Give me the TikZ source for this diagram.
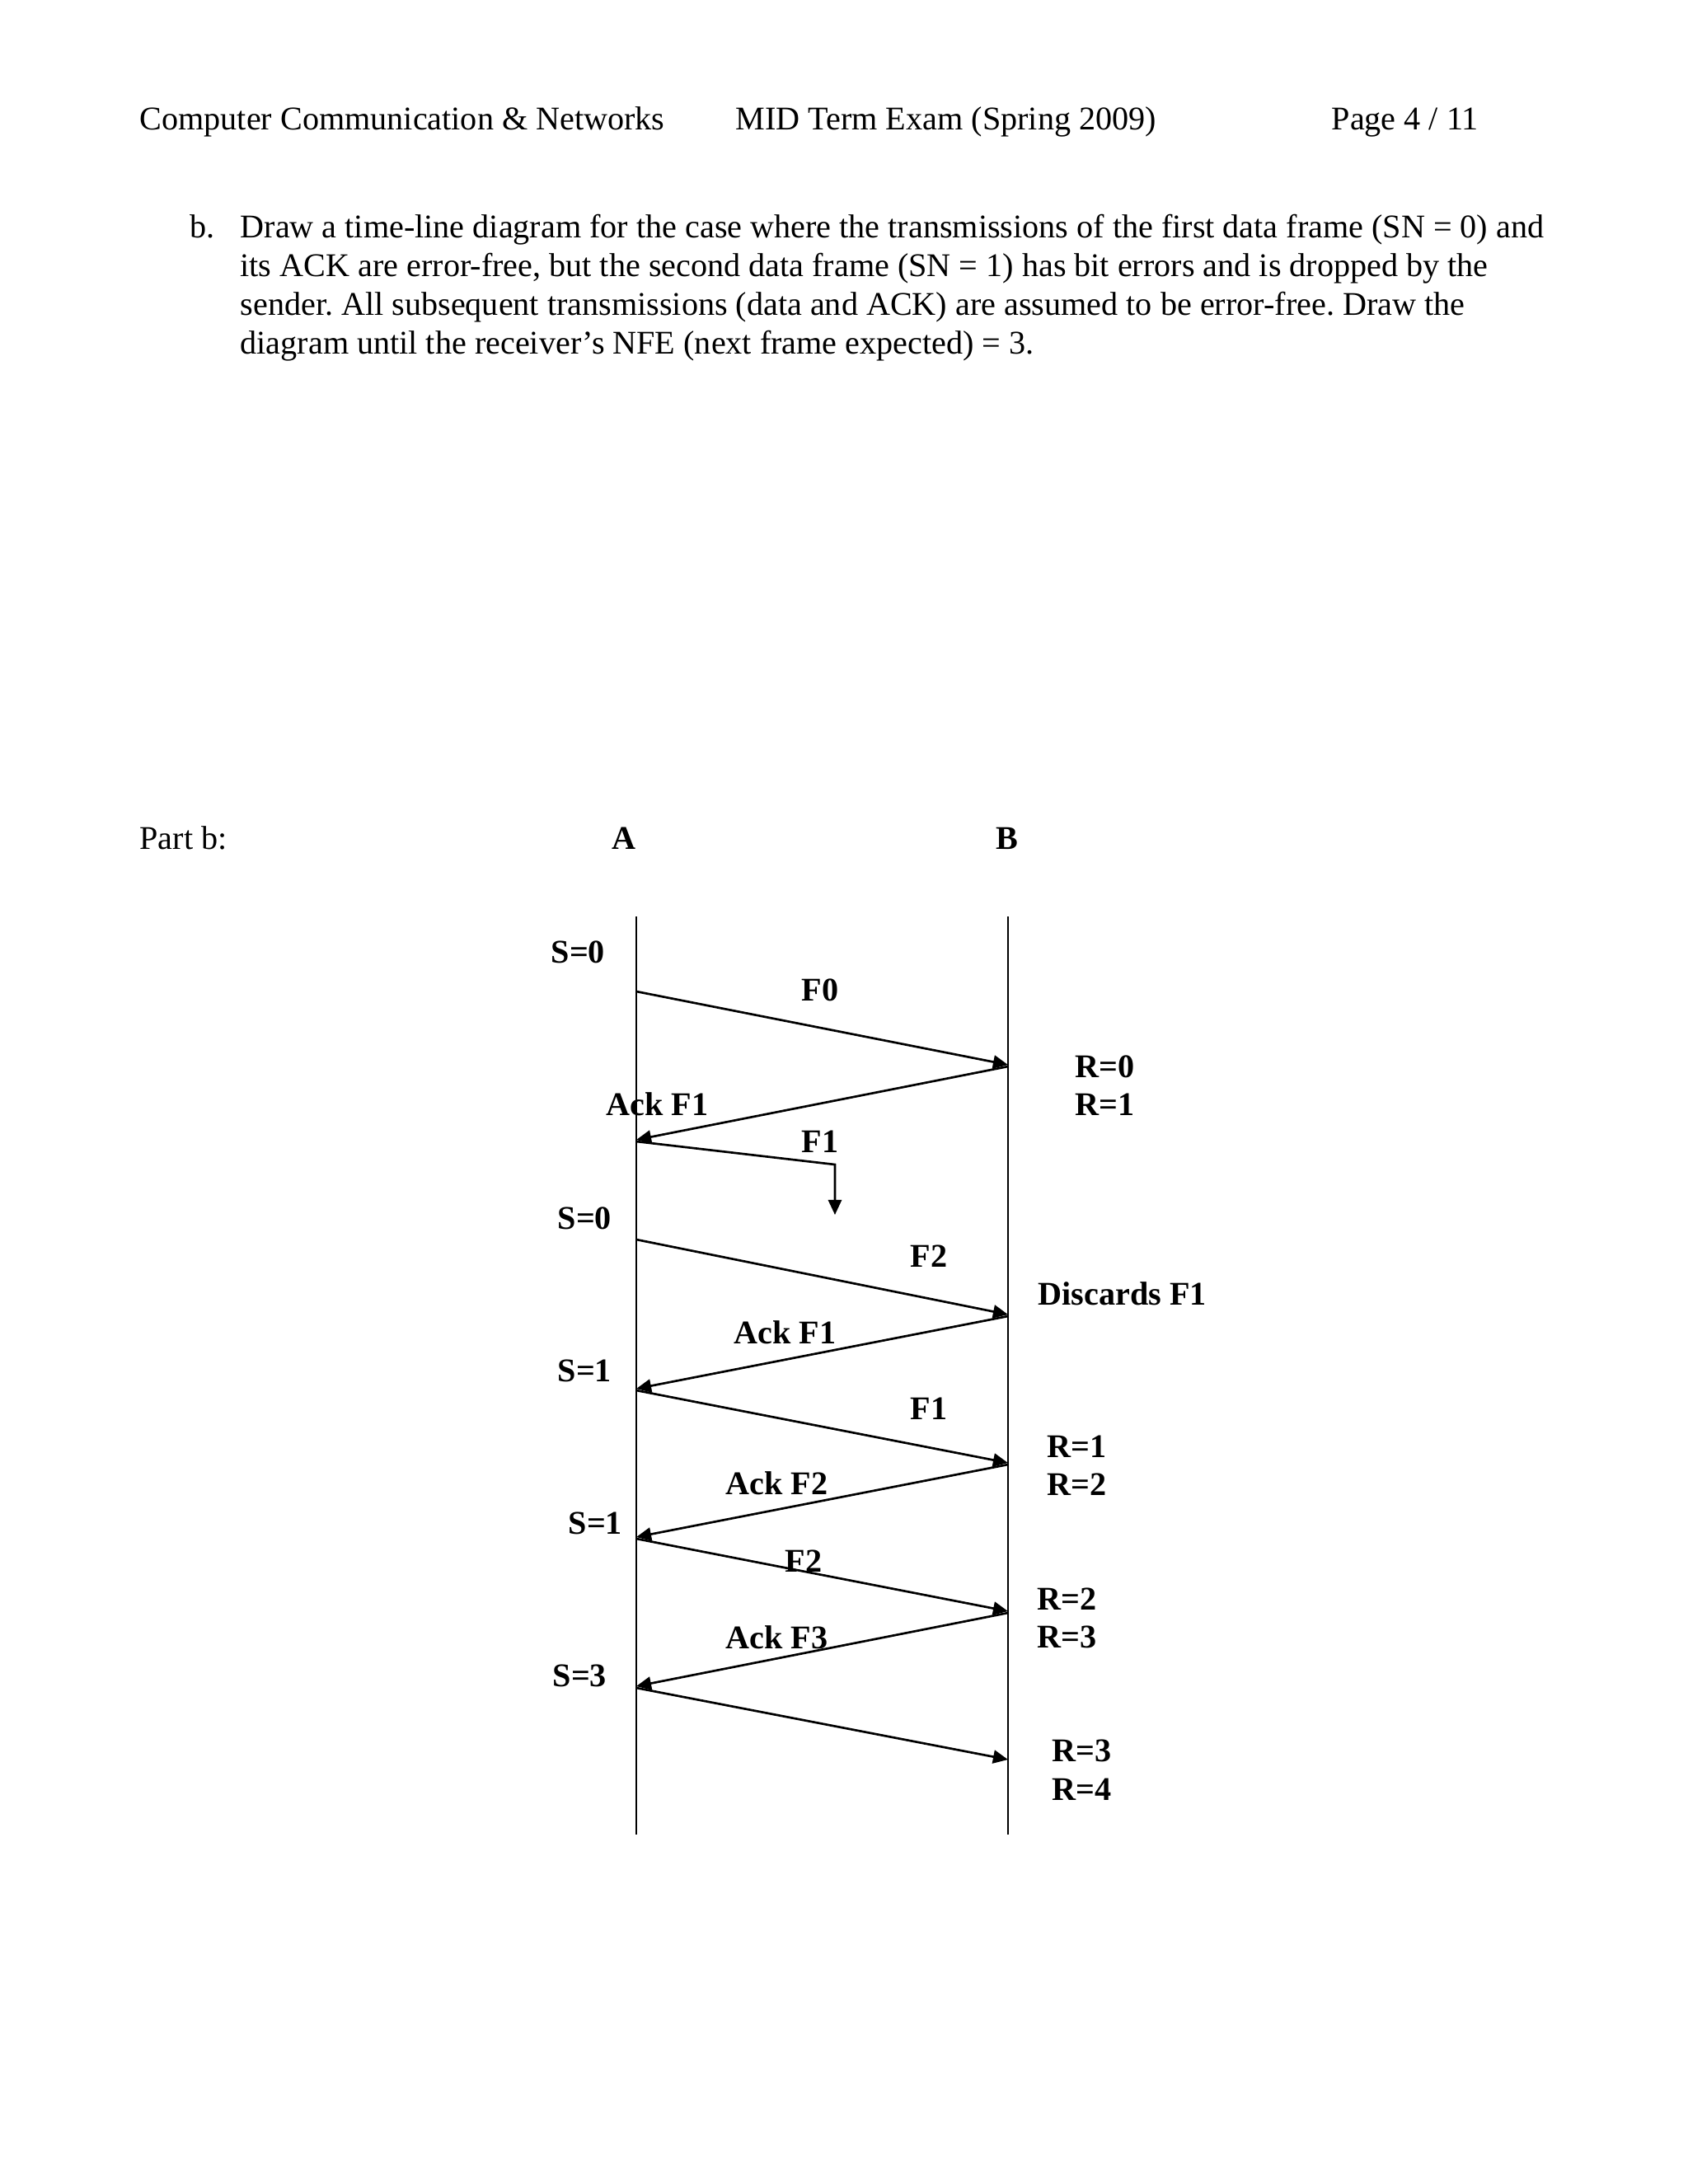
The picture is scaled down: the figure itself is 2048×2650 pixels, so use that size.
\documentclass[tikz,border=0pt]{standalone}
\usepackage{fontspec}
\setmainfont{Liberation Serif}
\usetikzlibrary{arrows.meta}
\frenchspacing
\tikzset{
  txt/.style={anchor=base west, inner sep=0pt, font=\fontsize{12}{14}\selectfont},
  lbl/.style={anchor=base west, inner sep=0pt, font=\fontsize{12}{14}\selectfont\bfseries},
  life/.style={line width=0.55pt},
  msg/.style={line width=0.8pt, -{Triangle[length=5.4pt, width=4.8pt]}},
}
\begin{document}
\begin{tikzpicture}[x=0.29883pt, y=-0.29883pt]
\useasboundingbox (0,0) rectangle (2048,2650);
% header
\node[txt] (h1) at (169,157) {Computer Communication \& Networks};
\node[txt] (h2) at (892,157) {MID Term Exam (Spring 2009)};
\node[txt] (h3) at (1615,157) {Page 4 / 11};
% question
\node[txt] (qb) at (230,288) {b.};
\node[txt] (q1) at (291,288) {Draw a time-line diagram for the case where the transmissions of the first data frame (SN = 0) and};
\node[txt] (q2) at (291,335) {its ACK are error-free, but the second data frame (SN = 1) has bit errors and is dropped by the};
\node[txt] (q3) at (291,382) {sender. All subsequent transmissions (data and ACK) are assumed to be error-free. Draw the};
\node[txt] (q4) at (291,429) {diagram until the receiver's NFE (next frame expected) = 3.};
% part b
\node[txt] (pb) at (169,1030) {Part b:};
\node[lbl, anchor=base] (hA) at (757,1030) {A};
\node[lbl, anchor=base] (hB) at (1222,1030) {B};
% lifelines
\coordinate (Atop) at (772,1112);
\coordinate (Abot) at (772,2226);
\coordinate (Btop) at (1223,1112);
\coordinate (Bbot) at (1223,2226);
\draw[life] (Atop) -- (Abot);
\draw[life] (Btop) -- (Bbot);
% event points
\coordinate (a1) at (772,1203);
\coordinate (b1) at (1223,1292);
\coordinate (b1r) at (1223,1294);
\coordinate (a2) at (772,1383);
\coordinate (a2s) at (772,1385);
\coordinate (lostc) at (1013,1413);
\coordinate (lost) at (1013,1474);
\coordinate (a3) at (772,1504);
\coordinate (b3) at (1223,1595);
\coordinate (b3r) at (1223,1597);
\coordinate (a4) at (772,1685);
\coordinate (a4s) at (772,1687);
\coordinate (b4) at (1223,1775);
\coordinate (b4r) at (1223,1777);
\coordinate (a5) at (772,1865);
\coordinate (a5s) at (772,1867);
\coordinate (b5) at (1223,1955);
\coordinate (b5r) at (1223,1957);
\coordinate (a6) at (772,2046);
\coordinate (a6s) at (772,2048);
\coordinate (b6) at (1223,2135);
% messages
\draw[msg] (a1) -- (b1);
\draw[msg] (b1r) -- (a2);
\draw[msg] (a2s) -- (lostc) -- (lost);
\draw[msg] (a3) -- (b3);
\draw[msg] (b3r) -- (a4);
\draw[msg] (a4s) -- (b4);
\draw[msg] (b4r) -- (a5);
\draw[msg] (a5s) -- (b5);
\draw[msg] (b5r) -- (a6);
\draw[msg] (a6s) -- (b6);
% labels
\node[lbl] (s0a) at (668,1168) {S=0};
\node[lbl] (f0) at (972,1214) {F0};
\node[lbl] (ack1a) at (735,1353) {Ack F1};
\node[lbl] (f1a) at (972,1398) {F1};
\node[lbl] (r0a) at (1304,1307) {R=0};
\node[lbl] (r1a) at (1304,1353) {R=1};
\node[lbl] (s0b) at (676,1491) {S=0};
\node[lbl] (f2a) at (1104,1537) {F2};
\node[lbl] (disc) at (1259,1583) {Discards F1};
\node[lbl] (ack1b) at (890,1630) {Ack F1};
\node[lbl] (s1a) at (676,1676) {S=1};
\node[lbl] (f1b) at (1104,1722) {F1};
\node[lbl] (r1b) at (1270,1768) {R=1};
\node[lbl] (r2a) at (1270,1814) {R=2};
\node[lbl] (ack2) at (880,1813) {Ack F2};
\node[lbl] (s1b) at (689,1861) {S=1};
\node[lbl] (f2b) at (952,1907) {F2};
\node[lbl] (r2b) at (1258,1953) {R=2};
\node[lbl] (r3a) at (1258,1999) {R=3};
\node[lbl] (ack3) at (880,2000) {Ack F3};
\node[lbl] (s3) at (670,2046) {S=3};
\node[lbl] (r3b) at (1276,2137) {R=3};
\node[lbl] (r4) at (1276,2184) {R=4};
\end{tikzpicture}
\end{document}
